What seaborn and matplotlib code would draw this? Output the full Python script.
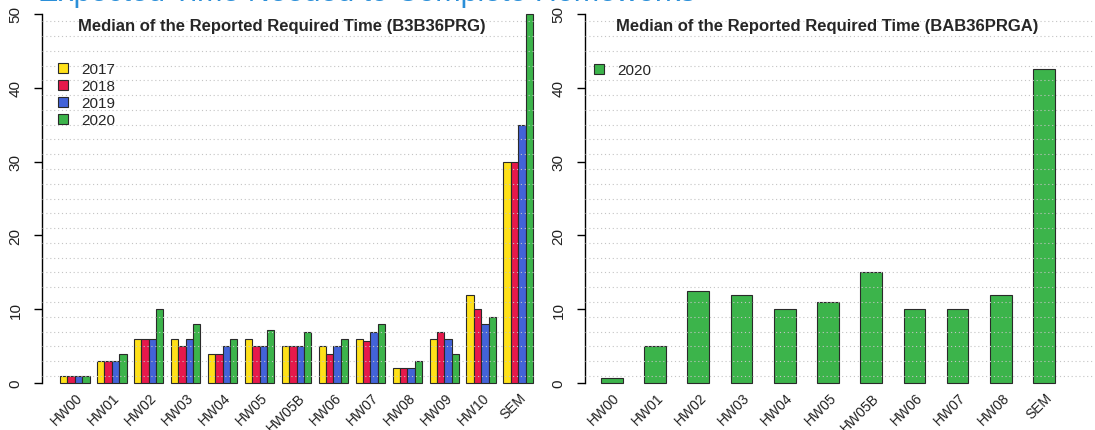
import numpy as np
import pandas as pd
import matplotlib
matplotlib.use("Agg")
import matplotlib.pyplot as plt
import matplotlib.transforms as mtransforms
from matplotlib.patches import Patch
import seaborn as sns

# ================== CONFIG ==================
sns.set_theme(style="white")
plt.rcParams["font.family"] = ["Liberation Sans", "DejaVu Sans"]

# ================== DATA ==================
hw_prg = ["HW00", "HW01", "HW02", "HW03", "HW04", "HW05", "HW05B",
          "HW06", "HW07", "HW08", "HW09", "HW10", "SEM"]
years = ["2017", "2018", "2019", "2020"]
prg_2017 = [1, 3, 6, 6, 4, 6, 5, 5, 6, 2, 6, 12, 30]
prg_2018 = [1, 3, 6, 5, 4, 5, 5, 4, 5.75, 2, 7, 10, 30]
prg_2019 = [1, 3, 6, 6, 5, 5, 5, 5, 7, 2, 6, 8, 35]
prg_2020 = [1, 4, 10, 8, 6, 7.25, 7, 6, 8, 3, 4, 9, 50]

hw_prga = ["HW00", "HW01", "HW02", "HW03", "HW04", "HW05", "HW05B",
           "HW06", "HW07", "HW08", "SEM"]
prga_2020 = [0.75, 5, 12.5, 12, 10, 11, 15, 10, 10, 12, 42.5]

colors = ["#ffe119", "#e6194b", "#4363d8", "#3cb44b"]

df1 = pd.DataFrame({
    "hw": hw_prg * 4,
    "year": np.repeat(years, len(hw_prg)),
    "value": prg_2017 + prg_2018 + prg_2019 + prg_2020,
})
df2 = pd.DataFrame({"hw": hw_prga, "value": prga_2020})

# ================== FIGURE ==================
W, H = 1095, 431
fig = plt.figure(figsize=(W / 100, H / 100), dpi=100)
ax1 = fig.add_axes([42 / W, 32 / H, 493 / W, 399 / H])
ax2 = fig.add_axes([585 / W, 32 / H, 508 / W, 399 / H])

sns.barplot(data=df1, x="hw", y="value", hue="year", palette=colors,
            saturation=1, width=0.8, errorbar=None, edgecolor="#2a2a2a",
            linewidth=0.8, legend=False, ax=ax1)
sns.barplot(data=df2, x="hw", y="value", color=colors[3], saturation=1,
            width=0.5, errorbar=None, edgecolor="#2a2a2a", linewidth=0.8,
            ax=ax2)

ax1.set_xlim(-0.887, 12.454)
ax2.set_xlim(-0.62, 11.13)

for ax, labels in ((ax1, hw_prg), (ax2, hw_prga)):
    ax.set_ylim(-2, 52)
    ax.set_xlabel("")
    ax.set_ylabel("")
    for s in ["top", "right", "bottom"]:
        ax.spines[s].set_visible(False)
    ax.spines["left"].set_bounds(0, 50)
    ax.spines["left"].set_color("black")
    ax.spines["left"].set_linewidth(1)
    ax.set_yticks(range(0, 51, 10))
    ax.tick_params(axis="y", left=True, length=6, width=1, color="black",
                   pad=8, labelsize=11, labelrotation=90, labelcolor="#222")
    for lab in ax.get_yticklabels():
        lab.set_va("center")
    # rotated category labels, R style
    ax.set_xticks([])
    off = mtransforms.ScaledTranslation(1 / 100, 0, fig.dpi_scale_trans)
    trans = ax.transData + off
    for i, lab in enumerate(labels):
        ax.text(i, -0.9, lab, transform=trans, rotation=45,
                rotation_mode="anchor", ha="right", va="top", fontsize=10,
                color="#222", clip_on=False)
    # dotted guide lines drawn over the bars
    for v in np.arange(1, 50, 2):
        ax.axhline(v, color="#c4c4c4", lw=0.8, ls=(0, (1, 2.5)), zorder=5)
    ax.set_facecolor("white")

# titles
fig.text(282 / W, 1 - 26 / H, "Median of the Reported Required Time (B3B36PRG)",
         ha="center", va="center", fontsize=12, fontweight="bold")
fig.text(827 / W, 1 - 26 / H, "Median of the Reported Required Time (BAB36PRGA)",
         ha="center", va="center", fontsize=12, fontweight="bold")

# slide heading, mostly cut off at the top
fig.text(695 / W, 1 - 0.5 / H, "Expected Time Needed to Complete Homeworks",
         ha="right", va="baseline", fontsize=22, color="#2b8fd8")

# legends
h1 = [Patch(facecolor=c, edgecolor="#2a2a2a", linewidth=0.8) for c in colors]
ax1.legend(h1, years, loc="upper left", bbox_to_anchor=(58 / W, 1 - 63 / H),
           bbox_transform=fig.transFigure, frameon=False, fontsize=11,
           handlelength=0.65, handleheight=0.65, handletextpad=0.85,
           borderpad=0, borderaxespad=0, labelspacing=0.2)
ax2.legend([h1[3]], ["2020"], loc="upper left",
           bbox_to_anchor=(594 / W, 1 - 64 / H), bbox_transform=fig.transFigure,
           frameon=False, fontsize=11, handlelength=0.65, handleheight=0.65,
           handletextpad=0.85, borderpad=0, borderaxespad=0)

fig.savefig("out.png", dpi=100, facecolor="white")
